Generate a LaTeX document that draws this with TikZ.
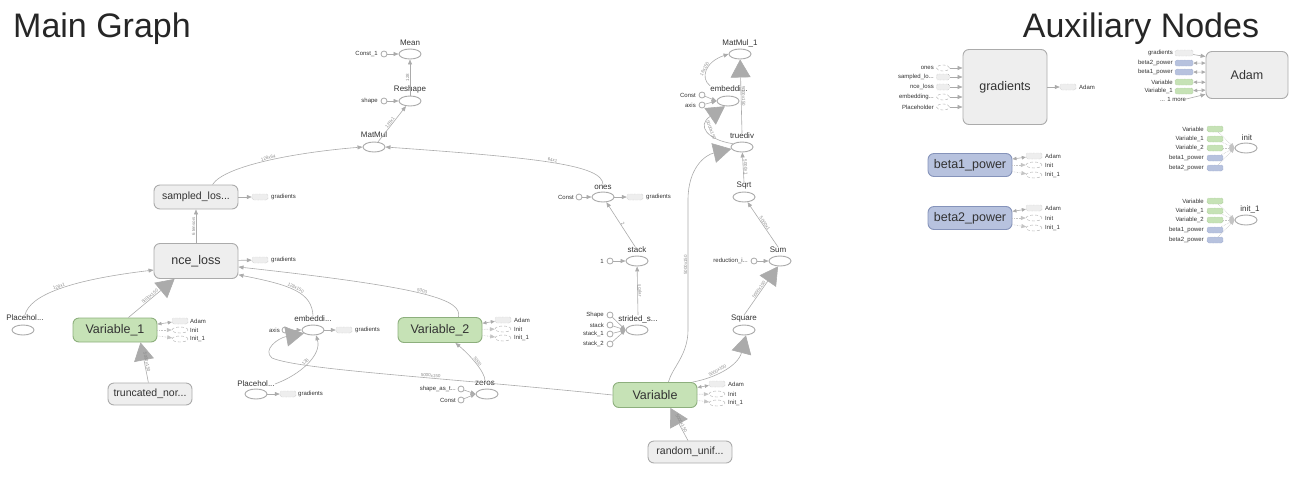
\documentclass[tikz,border=0pt]{standalone}
\usepackage{fontspec}
\setmainfont{Liberation Sans}
\usetikzlibrary{shapes.geometric,arrows.meta}

\definecolor{edgegray}{HTML}{ABABAB}
\definecolor{ctlgray}{HTML}{C4C4C4}
\definecolor{opline}{HTML}{A9A9A9}
\definecolor{grpfill}{HTML}{EEEEEE}
\definecolor{grpline}{HTML}{ABABAB}
\definecolor{varfill}{HTML}{C6E2B6}
\definecolor{varline}{HTML}{8DAF7D}
\definecolor{powfill}{HTML}{B7C2DE}
\definecolor{powline}{HTML}{8593BA}
\definecolor{inktext}{HTML}{333333}
\definecolor{lbltext}{HTML}{8A8A8A}

\begin{document}
\begin{tikzpicture}[x=1pt,y=-1pt,
  every node/.style={inner sep=0pt,text=inktext},
  grp/.style={draw=grpline,fill=grpfill,line width=0.9pt,rounded corners=6pt,minimum width=84pt,font=\fontsize{12.5}{12.5}\selectfont},
  grpsmall/.style={grp,font=\fontsize{10.5}{10.5}\selectfont},
  varbox/.style={grp,draw=varline,fill=varfill},
  powbox/.style={grp,draw=powline,fill=powfill},
  op/.style={ellipse,draw=opline,fill=white,line width=0.9pt,minimum width=22pt,minimum height=10pt},
  oplbl/.style={font=\fontsize{8}{8}\selectfont},
  cst/.style={circle,draw=opline,fill=white,line width=0.8pt,minimum size=6pt},
  tinylbl/.style={font=\fontsize{6}{6}\selectfont},
  refbox/.style={draw=grpline,fill=grpfill,densely dotted,rounded corners=1.5pt,minimum width=16pt,minimum height=6pt},
  refgreen/.style={refbox,draw=varline,fill=varfill},
  refblue/.style={refbox,draw=powline,fill=powfill},
  refop/.style={ellipse,draw=grpline,fill=white,densely dashed,minimum width=16pt,minimum height=6pt},
  flow/.style={draw=edgegray,line width=0.6pt,-{Triangle[length=5pt,width=4pt]}},
  refpair/.style={flow,{Triangle[length=4pt,width=3.5pt]}-{Triangle[length=4pt,width=3.5pt]}},
  ctl/.style={flow,draw=ctlgray,densely dotted},
  refflow/.style={draw=edgegray,line width=0.6pt,-{Triangle[length=18pt,width=20pt]}},
  elbl/.style={font=\fontsize{4.5}{4.5}\selectfont,text=lbltext,sloped,above=0.6pt}]
  \useasboundingbox (0,0) rectangle (1313,501);

  \node[anchor=base west,font=\fontsize{34}{34}\selectfont,text=black!85] (maintitle) at (13,37) {Main Graph};
  \node[anchor=base,font=\fontsize{34}{34}\selectfont,text=black!85] (auxtitle) at (1141,37) {Auxiliary Nodes};

  \node[grpsmall,minimum height=24pt] (sampled) at (196,197) {sampled\_los...};
  \node[refbox] (sampledg) at (260,197) {};
  \node[tinylbl,anchor=west] (sampledgl) at (271,197) {gradients};
  \node[grp,minimum height=35pt] (nce) at (196,261) {nce\_loss};
  \node[refbox] (nceg) at (260,260) {};
  \node[tinylbl,anchor=west] (ncegl) at (271,260) {gradients};
  \node[varbox,minimum height=24pt] (var1) at (115,330) {Variable\_1};
  \node[refbox] (var1a) at (180,321) {};
  \node[refop] (var1i) at (180,330) {};
  \node[refop] (var1j) at (180,339) {};
  \node[tinylbl,anchor=west] (var1al) at (190,321) {Adam};
  \node[tinylbl,anchor=west] (var1il) at (190,330) {Init};
  \node[tinylbl,anchor=west] (var1jl) at (190,339) {Init\_1};
  \node[grpsmall,minimum height=22pt] (trunc) at (150,394) {truncated\_nor...};

  \node[op] (pha) at (23,330) {};
  \node[oplbl] (phal) at (25,318) {Placehol...};
  \node[op] (emba) at (313,330) {};
  \node[oplbl] (embal) at (313,319) {embeddi...};
  \node[cst] (axisa) at (285,330) {};
  \node[tinylbl,anchor=east] (axisal) at (280,330) {axis};
  \node[refbox] (embag) at (344,330) {};
  \node[tinylbl,anchor=west] (embagl) at (355,330) {gradients};
  \node[op] (phb) at (256,394) {};
  \node[oplbl] (phbl) at (256,384) {Placehol...};
  \node[refbox] (phbg) at (288,394) {};
  \node[tinylbl,anchor=west] (phbgl) at (298,394) {gradients};

  \node[varbox,minimum height=25pt] (var2) at (440,330) {Variable\_2};
  \node[refbox] (var2a) at (503,320) {};
  \node[refop] (var2i) at (503,329) {};
  \node[refop] (var2j) at (503,338) {};
  \node[tinylbl,anchor=west] (var2al) at (514,320) {Adam};
  \node[tinylbl,anchor=west] (var2il) at (514,329) {Init};
  \node[tinylbl,anchor=west] (var2jl) at (514,338) {Init\_1};
  \node[op] (zeros) at (487,394) {};
  \node[oplbl] (zerosl) at (485,383) {zeros};
  \node[cst] (sat) at (461,389) {};
  \node[tinylbl,anchor=east] (satl) at (456,389) {shape\_as\_t...};
  \node[cst] (zc) at (461,400) {};
  \node[tinylbl,anchor=east] (zcl) at (456,400) {Const};

  \node[op] (matmul) at (374,147) {};
  \node[oplbl] (matmull) at (374,135) {MatMul};
  \node[op] (reshape) at (410,101) {};
  \node[oplbl] (reshapel) at (410,89) {Reshape};
  \node[cst] (shape) at (384,101) {};
  \node[tinylbl,anchor=east] (shapel) at (378,101) {shape};
  \node[op] (mean) at (410,54) {};
  \node[oplbl] (meanl) at (410,43) {Mean};
  \node[cst] (const1) at (384,54) {};
  \node[tinylbl,anchor=east] (const1l) at (378,54) {Const\_1};

  \node[op] (ones) at (603,197) {};
  \node[oplbl] (onesl) at (603,187) {ones};
  \node[cst] (onesc) at (579,197) {};
  \node[tinylbl,anchor=east] (onescl) at (574,197) {Const};
  \node[refbox] (onesg) at (635,197) {};
  \node[tinylbl,anchor=west] (onesgl) at (646,197) {gradients};
  \node[op] (stack) at (637,261) {};
  \node[oplbl] (stackl) at (637,250) {stack};
  \node[cst] (one) at (610,261) {};
  \node[tinylbl,anchor=east] (onel) at (604,261) {1};
  \node[op] (strided) at (637,330) {};
  \node[oplbl] (stridedl) at (638,319) {strided\_s...};
  \node[cst] (sshape) at (610,315) {};
  \node[cst] (sstack) at (610,325) {};
  \node[cst] (sstack1) at (610,334) {};
  \node[cst] (sstack2) at (610,344) {};
  \node[tinylbl,anchor=east] (sshapel) at (604,315) {Shape};
  \node[tinylbl,anchor=east] (sstackl) at (604,325) {stack};
  \node[tinylbl,anchor=east] (sstack1l) at (604,334) {stack\_1};
  \node[tinylbl,anchor=east] (sstack2l) at (604,344) {stack\_2};

  \node[varbox,minimum height=25pt] (var) at (655,395) {Variable};
  \node[refbox] (vara) at (717,384) {};
  \node[refop] (vari) at (717,394) {};
  \node[refop] (varj) at (717,403) {};
  \node[tinylbl,anchor=west] (varal) at (728,384) {Adam};
  \node[tinylbl,anchor=west] (varil) at (728,394) {Init};
  \node[tinylbl,anchor=west] (varjl) at (728,403) {Init\_1};
  \node[grpsmall,minimum height=22pt] (randu) at (690,452) {random\_unif...};

  \node[op] (square) at (744,330) {};
  \node[oplbl] (squarel) at (744,319) {Square};
  \node[op] (sum) at (780,261) {};
  \node[oplbl] (suml) at (778,250) {Sum};
  \node[cst] (redi) at (754,261) {};
  \node[tinylbl,anchor=east] (redil) at (748,261) {reduction\_i...};
  \node[op] (sqrt) at (744,197) {};
  \node[oplbl] (sqrtl) at (744,186) {Sqrt};
  \node[op] (truediv) at (742,147) {};
  \node[oplbl] (truedivl) at (742,136) {truediv};
  \node[op] (embb) at (728,101) {};
  \node[oplbl] (embbl) at (729,89) {embeddi...};
  \node[cst] (embbc) at (702,95) {};
  \node[tinylbl,anchor=east] (embbcl) at (696,95) {Const};
  \node[cst] (embba) at (702,105) {};
  \node[tinylbl,anchor=east] (embbal) at (696,105) {axis};
  \node[op] (matmul1) at (740,54) {};
  \node[oplbl] (matmul1l) at (740,43) {MatMul\_1};

  \draw[flow] (nce) -- node[elbl]{6 tensors} (sampled);
  \draw[flow] (sampled) -- (sampledg);
  \draw[flow] (nce) -- (nceg);
  \draw[flow] (sampled.37) .. controls (225,165) and (300,152) .. node[elbl]{128x64} (matmul.west);
  \draw[flow] (onesl.north) .. controls (603,165) and (540,158) .. node[elbl]{64x1} (matmul.east);
  \draw[flow] (matmul) -- node[elbl]{128x1} (reshape);
  \draw[flow] (reshape) -- node[elbl]{128} (mean);
  \draw[flow] (const1) -- (mean);
  \draw[flow] (shape) -- (reshape);
  \draw[flow] (phal.north) .. controls (30,295) and (70,280) .. node[elbl]{128x1} (nce.192);
  \draw[refflow] (var1.43) -- node[elbl]{5000x150} (nce);
  \draw[refflow] (trunc.98) -- node[elbl]{5000x150} (var1.-26);
  \draw[refpair] (var1) -- (var1a);
  \draw[ctl] (var1) -- (var1i);
  \draw[ctl] (var1) -- (var1j);
  \draw[flow] (embal.north) .. controls (312,292) and (290,285) .. node[elbl]{128x150} (nce.-18);
  \draw[flow] (var2.35) .. controls (462,300) and (430,288) .. node[elbl]{5000} (nce.-8);
  \draw[flow] (axisa) -- (emba);
  \draw[flow] (emba) -- (embag);
  \draw[flow] (phbl.east) .. controls (300,375) and (322,355) .. node[elbl]{128} (emba.-60);
  \draw[flow] (phb) -- (phbg);
  \draw[refflow] (var.west) .. controls (450,378) and (300,370) .. (272,358) node[elbl,pos=0.4]{5000x150} .. controls (262,350) and (278,338) .. (emba.-160);
  \draw[flow] (zerosl.north) .. controls (485,372) and (470,355) .. node[elbl]{5000} (var2.-40);
  \draw[flow] (sat) -- (zeros.west);
  \draw[flow] (zc) -- (zeros.west);
  \draw[refpair] (var2) -- (var2a);
  \draw[ctl] (var2) -- (var2i);
  \draw[ctl] (var2) -- (var2j);

  \draw[flow] (onesc) -- (ones);
  \draw[flow] (ones) -- (onesg);
  \draw[flow] (stackl.120) -- node[elbl]{2} (ones);
  \draw[flow] (one) -- (stack);
  \draw[flow] (stridedl.north) -- node[elbl]{scalar} (stack);
  \draw[flow] (sshape) -- (strided.west);
  \draw[flow] (sstack) -- (strided.west);
  \draw[flow] (sstack1) -- (strided.west);
  \draw[flow] (sstack2) -- (strided.west);

  \draw[refflow] (var.44) .. controls (672,368) and (688,355) .. (688,330) -- (688,200) node[elbl,pos=0.5]{5000x150} .. controls (688,168) and (705,155) .. (truediv.-170);
  \draw[refflow] (randu.100) -- node[elbl]{5000x150} (var.-40);
  \draw[refpair] (var) -- (vara);
  \draw[ctl] (var) -- (vari);
  \draw[ctl] (var) -- (varj);
  \draw[refflow] (var.19) .. controls (715,378) and (738,366) .. node[elbl,pos=0.4]{5000x150} (square.-70);
  \draw[refflow] (squarel.north) -- node[elbl]{5000x150} (sum.-110);
  \draw[flow] (redi) -- (sum);
  \draw[flow] (suml.north) -- node[elbl]{5000x1} (sqrt);
  \draw[flow] (sqrtl.north) -- node[elbl]{5000x1} (truediv);
  \draw[refflow] (truediv.160) .. controls (708,140) and (696,126) .. node[elbl]{5000x150} (embb.-120);
  \draw[flow] (embbc) -- (embb.west);
  \draw[flow] (embba) -- (embb.west);
  \draw[flow] (embbl.north west) .. controls (700,78) and (705,62) .. node[elbl]{16x150} (matmul1.west);
  \draw[refflow] (truedivl.north) -- node[elbl]{5000x150} (matmul1);

  \node[grp,minimum height=75pt] (gradaux) at (1005,87) {gradients};
  \node[refop,minimum width=13pt] (gin1) at (943,68) {};
  \node[refbox,minimum width=13pt] (gin2) at (943,77) {};
  \node[refbox,minimum width=13pt] (gin3) at (943,87) {};
  \node[refop,minimum width=13pt] (gin4) at (943,97) {};
  \node[refop,minimum width=13pt] (gin5) at (943,107) {};
  \node[tinylbl,anchor=east] (gin1l) at (934,68) {ones};
  \node[tinylbl,anchor=east] (gin2l) at (934,77) {sampled\_lo...};
  \node[tinylbl,anchor=east] (gin3l) at (934,87) {nce\_loss};
  \node[tinylbl,anchor=east] (gin4l) at (934,97) {embedding...};
  \node[tinylbl,anchor=east] (gin5l) at (934,107) {Placeholder};
  \node[refbox] (gradauxa) at (1068,87) {};
  \node[tinylbl,anchor=west] (gradauxal) at (1079,87) {Adam};
  \draw[flow] (gin1) -- (gradaux.west |- gin1);
  \draw[flow] (gin2) -- (gradaux.west |- gin2);
  \draw[flow] (gin3) -- (gradaux.west |- gin3);
  \draw[flow] (gin4) -- (gradaux.west |- gin4);
  \draw[flow] (gin5) -- (gradaux.west |- gin5);
  \draw[flow] (gradaux) -- (gradauxa);

  \node[powbox,minimum height=23pt] (beta1) at (970,165) {beta1\_power};
  \node[refbox] (beta1a) at (1034,156) {};
  \node[refop] (beta1i) at (1034,165) {};
  \node[refop] (beta1j) at (1034,175) {};
  \node[tinylbl,anchor=west] (beta1al) at (1045,156) {Adam};
  \node[tinylbl,anchor=west] (beta1il) at (1045,165) {Init};
  \node[tinylbl,anchor=west] (beta1jl) at (1045,175) {Init\_1};
  \draw[refpair] (beta1) -- (beta1a);
  \draw[ctl] (beta1) -- (beta1i);
  \draw[ctl] (beta1) -- (beta1j);
  \node[powbox,minimum height=23pt] (beta2) at (970,218) {beta2\_power};
  \node[refbox] (beta2a) at (1034,208) {};
  \node[refop] (beta2i) at (1034,218) {};
  \node[refop] (beta2j) at (1034,228) {};
  \node[tinylbl,anchor=west] (beta2al) at (1045,208) {Adam};
  \node[tinylbl,anchor=west] (beta2il) at (1045,218) {Init};
  \node[tinylbl,anchor=west] (beta2jl) at (1045,228) {Init\_1};
  \draw[refpair] (beta2) -- (beta2a);
  \draw[ctl] (beta2) -- (beta2i);
  \draw[ctl] (beta2) -- (beta2j);

  \node[grp,minimum width=82pt,minimum height=47pt] (adam) at (1247,75) {Adam};
  \node[refbox,minimum width=18pt] (ain1) at (1184,53) {};
  \node[refblue,minimum width=18pt] (ain2) at (1184,63) {};
  \node[refblue,minimum width=18pt] (ain3) at (1184,72) {};
  \node[refgreen,minimum width=18pt] (ain4) at (1184,82) {};
  \node[refgreen,minimum width=18pt] (ain5) at (1184,91) {};
  \node[tinylbl,anchor=east] (ain1l) at (1173,53) {gradients};
  \node[tinylbl,anchor=east] (ain2l) at (1173,63) {beta2\_power};
  \node[tinylbl,anchor=east] (ain3l) at (1173,72) {beta1\_power};
  \node[tinylbl,anchor=east] (ain4l) at (1173,82) {Variable};
  \node[tinylbl,anchor=east] (ain5l) at (1173,91) {Variable\_1};
  \node[tinylbl] (ainmore) at (1173,99) {... 1 more};
  \draw[flow] (ain1) -- (adam.156);
  \draw[refpair] (ain2) -- (adam.164);
  \draw[refpair] (ain3) -- (adam.176);
  \draw[refpair] (ain4) -- (adam.190);
  \draw[refpair] (ain5) -- (adam.200);
  \draw[flow] (ainmore.east) -- (adam.205);

  \node[op] (init) at (1246,148) {};
  \node[oplbl] (initl) at (1247,138) {init};
  \node[refgreen] (iin1) at (1215,129) {};
  \node[refgreen] (iin2) at (1215,139) {};
  \node[refgreen] (iin3) at (1215,148) {};
  \node[refblue] (iin4) at (1215,158) {};
  \node[refblue] (iin5) at (1215,168) {};
  \node[tinylbl,anchor=east] (iin1l) at (1204,129) {Variable};
  \node[tinylbl,anchor=east] (iin2l) at (1204,139) {Variable\_1};
  \node[tinylbl,anchor=east] (iin3l) at (1204,148) {Variable\_2};
  \node[tinylbl,anchor=east] (iin4l) at (1204,158) {beta1\_power};
  \node[tinylbl,anchor=east] (iin5l) at (1204,168) {beta2\_power};
  \draw[ctl] (iin1) -- (init.west);
  \draw[ctl] (iin2) -- (init.west);
  \draw[ctl] (iin3) -- (init.west);
  \draw[ctl] (iin4) -- (init.west);
  \draw[ctl] (iin5) -- (init.west);

  \node[op] (initb) at (1246,220) {};
  \node[oplbl] (initbl) at (1250,209) {init\_1};
  \node[refgreen] (jin1) at (1215,201) {};
  \node[refgreen] (jin2) at (1215,211) {};
  \node[refgreen] (jin3) at (1215,220) {};
  \node[refblue] (jin4) at (1215,230) {};
  \node[refblue] (jin5) at (1215,240) {};
  \node[tinylbl,anchor=east] (jin1l) at (1204,201) {Variable};
  \node[tinylbl,anchor=east] (jin2l) at (1204,211) {Variable\_1};
  \node[tinylbl,anchor=east] (jin3l) at (1204,220) {Variable\_2};
  \node[tinylbl,anchor=east] (jin4l) at (1204,230) {beta1\_power};
  \node[tinylbl,anchor=east] (jin5l) at (1204,240) {beta2\_power};
  \draw[ctl] (jin1) -- (initb.west);
  \draw[ctl] (jin2) -- (initb.west);
  \draw[ctl] (jin3) -- (initb.west);
  \draw[ctl] (jin4) -- (initb.west);
  \draw[ctl] (jin5) -- (initb.west);
\end{tikzpicture}
\end{document}
